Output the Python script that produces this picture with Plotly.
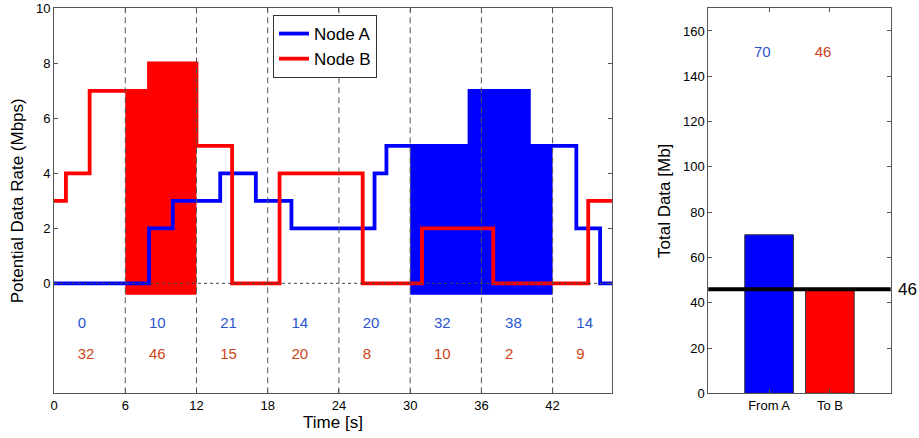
import numpy as np
import plotly.graph_objects as go

# Step-wise potential data rates (Mbps): rate[i] holds from edge[i] to edge[i+1]
a_edges = [0, 8, 10, 14, 17, 20, 27, 28, 35, 40, 44, 46, 48]
a_rates = [0, 2, 3, 4, 3, 2, 4, 5, 7, 5, 2, 0]
b_edges = [0, 1, 3, 8, 12, 15, 19, 26, 31, 37, 45, 48]
b_rates = [3, 4, 7, 8, 5, 0, 4, 0, 2, 0, 3]

slot_len = 6
slot_starts = list(range(0, 48, slot_len))
a_window = (30, 42)   # transmission window used by node A
b_window = (6, 12)    # transmission window used by node B
bar_labels = ["From A", "To B"]

BLUE = "#0000ff"
RED = "#ff0000"
BLUE_TXT = "#2a55d0"
RED_TXT = "#cc4418"
FONT = "Arial"


def integrate(edges, rates, lo, hi):
    total = 0.0
    for x0, x1, r in zip(edges[:-1], edges[1:], rates):
        overlap = max(0.0, min(x1, hi) - max(x0, lo))
        total += overlap * r
    return total


def step_xy(edges, rates):
    return list(edges), list(rates) + [rates[-1]]


def window_polygon(edges, rates, lo, hi, base):
    xs, ys = [lo], [base]
    for x0, x1, r in zip(edges[:-1], edges[1:], rates):
        s, e = max(x0, lo), min(x1, hi)
        if e > s:
            xs += [s, e]
            ys += [r, r]
    xs += [hi, lo]
    ys += [base, base]
    return xs, ys


a_slots = [integrate(a_edges, a_rates, s, s + slot_len) for s in slot_starts]
b_slots = [integrate(b_edges, b_rates, s, s + slot_len) for s in slot_starts]
total_a = integrate(a_edges, a_rates, *a_window)
total_b = integrate(b_edges, b_rates, *b_window)
bar_values = [total_a, total_b]

fig = go.Figure()

# Shaded windows
fx, fy = window_polygon(b_edges, b_rates, *b_window, base=-0.42)
fig.add_trace(go.Scatter(x=fx, y=fy, fill="toself", fillcolor=RED, mode="lines",
                         line=dict(width=0), showlegend=False, hoverinfo="skip",
                         xaxis="x", yaxis="y"))
fx, fy = window_polygon(a_edges, a_rates, *a_window, base=-0.42)
fig.add_trace(go.Scatter(x=fx, y=fy, fill="toself", fillcolor=BLUE, mode="lines",
                         line=dict(width=0), showlegend=False, hoverinfo="skip",
                         xaxis="x", yaxis="y"))

# Rate curves
ax, ay = step_xy(a_edges, a_rates)
fig.add_trace(go.Scatter(x=ax, y=ay, mode="lines", line=dict(color=BLUE, width=3.8, shape="hv"),
                         name="Node A", xaxis="x", yaxis="y"))
bx, by = step_xy(b_edges, b_rates)
fig.add_trace(go.Scatter(x=bx, y=by, mode="lines", line=dict(color=RED, width=3.8, shape="hv"),
                         name="Node B", xaxis="x", yaxis="y"))

# Per-slot data amounts
fig.add_trace(go.Scatter(x=[s + 2 for s in slot_starts], y=[-1.5] * len(slot_starts),
                         text=[f"{v:.0f}" for v in a_slots], mode="text",
                         textposition="middle right",
                         textfont=dict(family=FONT, size=15, color=BLUE_TXT),
                         showlegend=False, xaxis="x", yaxis="y"))
fig.add_trace(go.Scatter(x=[s + 2 for s in slot_starts], y=[-2.6] * len(slot_starts),
                         text=[f"{v:.0f}" for v in b_slots], mode="text",
                         textposition="middle right",
                         textfont=dict(family=FONT, size=15, color=RED_TXT),
                         showlegend=False, xaxis="x", yaxis="y"))

# Totals bar chart
fig.add_trace(go.Bar(x=[1, 2], y=bar_values, width=0.8,
                     marker=dict(color=[BLUE, RED], line=dict(color="#333333", width=1)),
                     showlegend=False, xaxis="x2", yaxis="y2"))
fig.add_trace(go.Scatter(x=[0.75, 1.75], y=[150, 150],
                         text=[f"{v:.0f}" for v in bar_values], mode="text",
                         textposition="middle right",
                         textfont=dict(family=FONT, size=15, color=[BLUE_TXT, RED_TXT]),
                         showlegend=False, xaxis="x2", yaxis="y2"))

shapes = []
for s in slot_starts[1:]:
    shapes.append(dict(type="line", xref="x", yref="y domain", x0=s, x1=s, y0=0, y1=1,
                       line=dict(color="#555555", width=1, dash="6px,4px"), layer="above"))
shapes.append(dict(type="line", xref="x domain", yref="y", x0=0, x1=1, y0=0, y1=0,
                   line=dict(color="#444444", width=1, dash="dot"), layer="above"))
shapes.append(dict(type="line", xref="x2 domain", yref="y2", x0=0, x1=1,
                   y0=total_b, y1=total_b, line=dict(color="black", width=4), layer="above"))

annotations = [dict(xref="x2 domain", yref="y2", x=1.03, y=total_b, text=f"{total_b:.0f}",
                    showarrow=False, xanchor="left", yanchor="middle",
                    font=dict(family=FONT, size=17, color="black"))]

axis_common = dict(showline=True, linecolor="#555555", linewidth=1, mirror="ticks",
                   ticks="inside", ticklen=4, tickcolor="#555555", showgrid=False,
                   zeroline=False, automargin=False,
                   tickfont=dict(family=FONT, size=13, color="black"))
ydom = [0.102, 0.981]
title_font = dict(family=FONT, size=17, color="black")

fig.update_layout(
    width=919, height=438,
    margin=dict(l=0, r=0, t=0, b=0, autoexpand=False),
    paper_bgcolor="white", plot_bgcolor="white",
    xaxis=dict(domain=[0.0588, 0.6659], range=[0, 47], tickvals=list(range(0, 43, 6)),
               title=dict(text="Time [s]", font=title_font, standoff=4),
               anchor="y", **axis_common),
    yaxis=dict(domain=ydom, range=[-4, 10], tickvals=[0, 2, 4, 6, 8, 10],
               title=dict(text="Potential Data Rate (Mbps)", font=title_font, standoff=8),
               anchor="x", **axis_common),
    xaxis2=dict(domain=[0.7707, 0.9692], range=[0, 3], tickvals=[1, 2], ticktext=bar_labels,
                anchor="y2", **axis_common),
    yaxis2=dict(domain=ydom, range=[0, 170], tickvals=list(range(0, 161, 20)),
                title=dict(text="Total Data [Mb]", font=title_font, standoff=8),
                anchor="x2", **axis_common),
    legend=dict(x=273 / 919, y=1 - 15 / 438, xanchor="left", yanchor="top",
                bgcolor="white", bordercolor="#333333", borderwidth=1,
                font=dict(family=FONT, size=17, color="black"), tracegroupgap=0),
    shapes=shapes, annotations=annotations,
    showlegend=True,
)

fig.write_html("out.html")
